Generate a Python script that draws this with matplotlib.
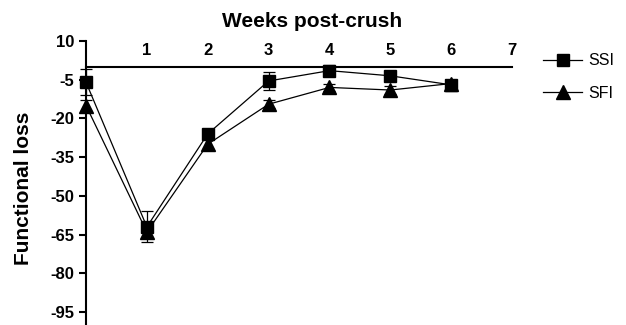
import matplotlib.pyplot as plt
import numpy as np

plt.rcParams['font.family'] = ['Liberation Sans', 'DejaVu Sans']

weeks = [0, 1, 2, 3, 4, 5, 6]
ssi = [-6, -62, -26, -5.5, -1.5, -3.5, -7]
ssi_err = [5, 6, 2, 3.5, 2, 1.5, 1.5]
sfi = [-15, -64, -30, -14.5, -8, -9, -6.5]
sfi_err = [2, 2.5, 2, 1.5, 1.5, 1.5, 1.5]

ytick_vals = [10, -5, -20, -35, -50, -65, -80, -95]
xtick_vals = [1, 2, 3, 4, 5, 6, 7]

fig = plt.figure(figsize=(6.26, 3.25), dpi=100)
ax = fig.add_axes([0.1374, 0.0, 0.6806, 0.874])

ax.errorbar(weeks, ssi, yerr=ssi_err, color='black', lw=0.9, marker='s', ms=8,
            capsize=4, elinewidth=0.9, capthick=0.9, label='SSI', zorder=3,
            clip_on=False)
ax.errorbar(weeks, sfi, yerr=sfi_err, color='black', lw=0.9, marker='^', ms=10,
            capsize=4, elinewidth=0.9, capthick=0.9, label='SFI', zorder=3,
            clip_on=False)

ax.set_xlim(0, 7)
ax.set_ylim(-100, 10)

ax.spines['right'].set_visible(False)
ax.spines['bottom'].set_visible(False)
ax.spines['top'].set_position(('data', 0))
ax.spines['top'].set_linewidth(1.5)
ax.spines['left'].set_linewidth(1.5)

ax.xaxis.set_ticks_position('top')
ax.set_xticks(xtick_vals)
ax.tick_params(axis='x', length=0, pad=6, labelsize=12)
ax.set_yticks(ytick_vals)
ax.set_yticklabels([str(v) for v in ytick_vals])
ax.tick_params(axis='y', length=5, width=1.5, labelsize=12)
for lab in ax.get_xticklabels() + ax.get_yticklabels():
    lab.set_fontweight('bold')

fig.text(0.037, 0.42, 'Functional loss', rotation=90, ha='center', va='center',
         fontsize=15, fontweight='bold')
fig.text(0.499, 0.935, 'Weeks post-crush', ha='center', va='center',
         fontsize=15, fontweight='bold')

handles, labels = ax.get_legend_handles_labels()
handles = [h[0] for h in handles]
fig.legend(handles, labels, loc='upper left', bbox_to_anchor=(0.845, 0.88),
           frameon=False, fontsize=11.5, handlelength=2.4, labelspacing=1.1,
           handletextpad=0.4)

fig.savefig('out.png', dpi=100)
